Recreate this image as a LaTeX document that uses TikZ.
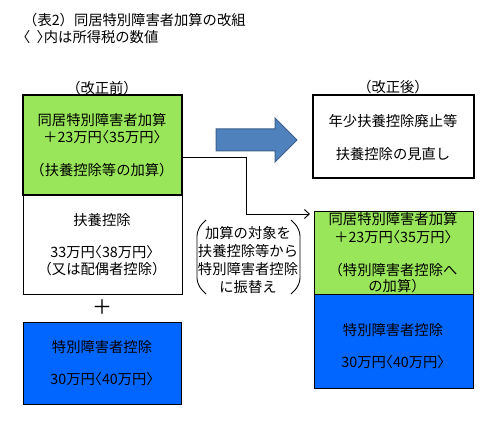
\documentclass[tikz,border=0pt]{standalone}
\usepackage{fontspec}
\setmainfont{Noto Sans CJK JP}
\newcommand{\lab}{{\addfontfeature{RawFeature=+halt}〈}}
\newcommand{\rab}{{\addfontfeature{RawFeature=+halt}〉}}
\usetikzlibrary{arrows.meta}
\definecolor{lgreen}{HTML}{99E65A}
\definecolor{bblue}{HTML}{0066FF}
\definecolor{arrowblue}{HTML}{4F81BD}
\definecolor{arrowedge}{HTML}{3A5F8C}
\begin{document}
\begin{tikzpicture}[x=1pt,y=-1pt,
  txt/.style={inner sep=0pt,font=\fontsize{14.3}{16}\selectfont},
  thickbox/.style={draw,line width=2.6pt},
  thinbox/.style={draw,line width=1pt}]
\useasboundingbox (0,0) rectangle (498,425);
% title
\node[txt,anchor=west] (t1) at (23,20) {（表2）同居特別障害者加算の改組};
\node[txt,anchor=west] (t2) at (23,37) {\lab\ \ \rab 内は所得税の数値};
% headings
\node[txt] (h1) at (102,88) {（改正前）};
\node[txt] (h2) at (393,87) {（改正後）};
% left boxes
\path[fill=lgreen] (23,95) rectangle (182,195);
\draw[thinbox] (23,195) rectangle (182,294);
\draw[thickbox] (23,95) rectangle (182,195);
\node[txt] (a1) at (102,120) {同居特別障害者加算};
\node[txt] (a2) at (102,137) {＋23万円\lab 35万円\rab};
\node[txt] (a3) at (102,170) {（扶養控除等の加算）};
\node[txt] (b1) at (102,220) {扶養控除};
\node[txt] (b2) at (102,252) {33万円\lab 38万円\rab};
\node[txt] (b3) at (102,269) {（又は配偶者控除）};
\node[txt,font=\fontsize{20}{20}\selectfont] (plus) at (102,307) {＋};
\draw[thinbox,fill=bblue] (23,322) rectangle (181,404);
\node[txt] (c1) at (102,347) {特別障害者控除};
\node[txt] (c2) at (102,379) {30万円\lab 40万円\rab};
% big arrow
\draw[fill=arrowblue,draw=arrowedge,line width=1pt]
  (216,129) -- (275,129) -- (275,118) -- (297,140) -- (275,162) -- (275,151) -- (216,151) -- cycle;
% right top box
\draw[thickbox] (313,95) rectangle (474,178);
\node[txt] (d1) at (393,121) {年少扶養控除廃止等};
\node[txt] (d2) at (393,154) {扶養控除の見直し};
% right lower boxes
\draw[thinbox,fill=lgreen] (314,211) rectangle (473,294);
\draw[thinbox,fill=bblue] (314,294) rectangle (473,388);
\node[txt] (e1) at (393,219) {同居特別障害者加算};
\node[txt] (e2) at (393,237) {＋23万円\lab 35万円\rab};
\node[txt] (e3) at (393,270) {（特別障害者控除へ};
\node[txt] (e4) at (397,286) {の加算）};
\node[txt] (f1) at (393,330) {特別障害者控除};
\node[txt] (f2) at (393,362) {30万円\lab 40万円\rab};
% connector
\coordinate (s) at (182,157);
\coordinate (tgt) at (310,214);
\draw[line width=0.9pt,-{Straight Barb[length=5pt,width=9pt]}] (s) -- (246,157) -- (246,214) -- (tgt);
% bracket text
\node[txt] (g1) at (248,233) {加算の対象を};
\node[txt] (g2) at (248,251) {扶養控除等から};
\node[txt] (g3) at (248,269) {特別障害者控除};
\node[txt] (g4) at (248,287) {に振替え};
\draw[line width=0.9pt,rounded corners=7pt] (206,220) -- (197,229) -- (197,285) -- (206,294);
\draw[line width=0.9pt,rounded corners=7pt] (291,220) -- (300,229) -- (300,285) -- (291,294);
\end{tikzpicture}
\end{document}
